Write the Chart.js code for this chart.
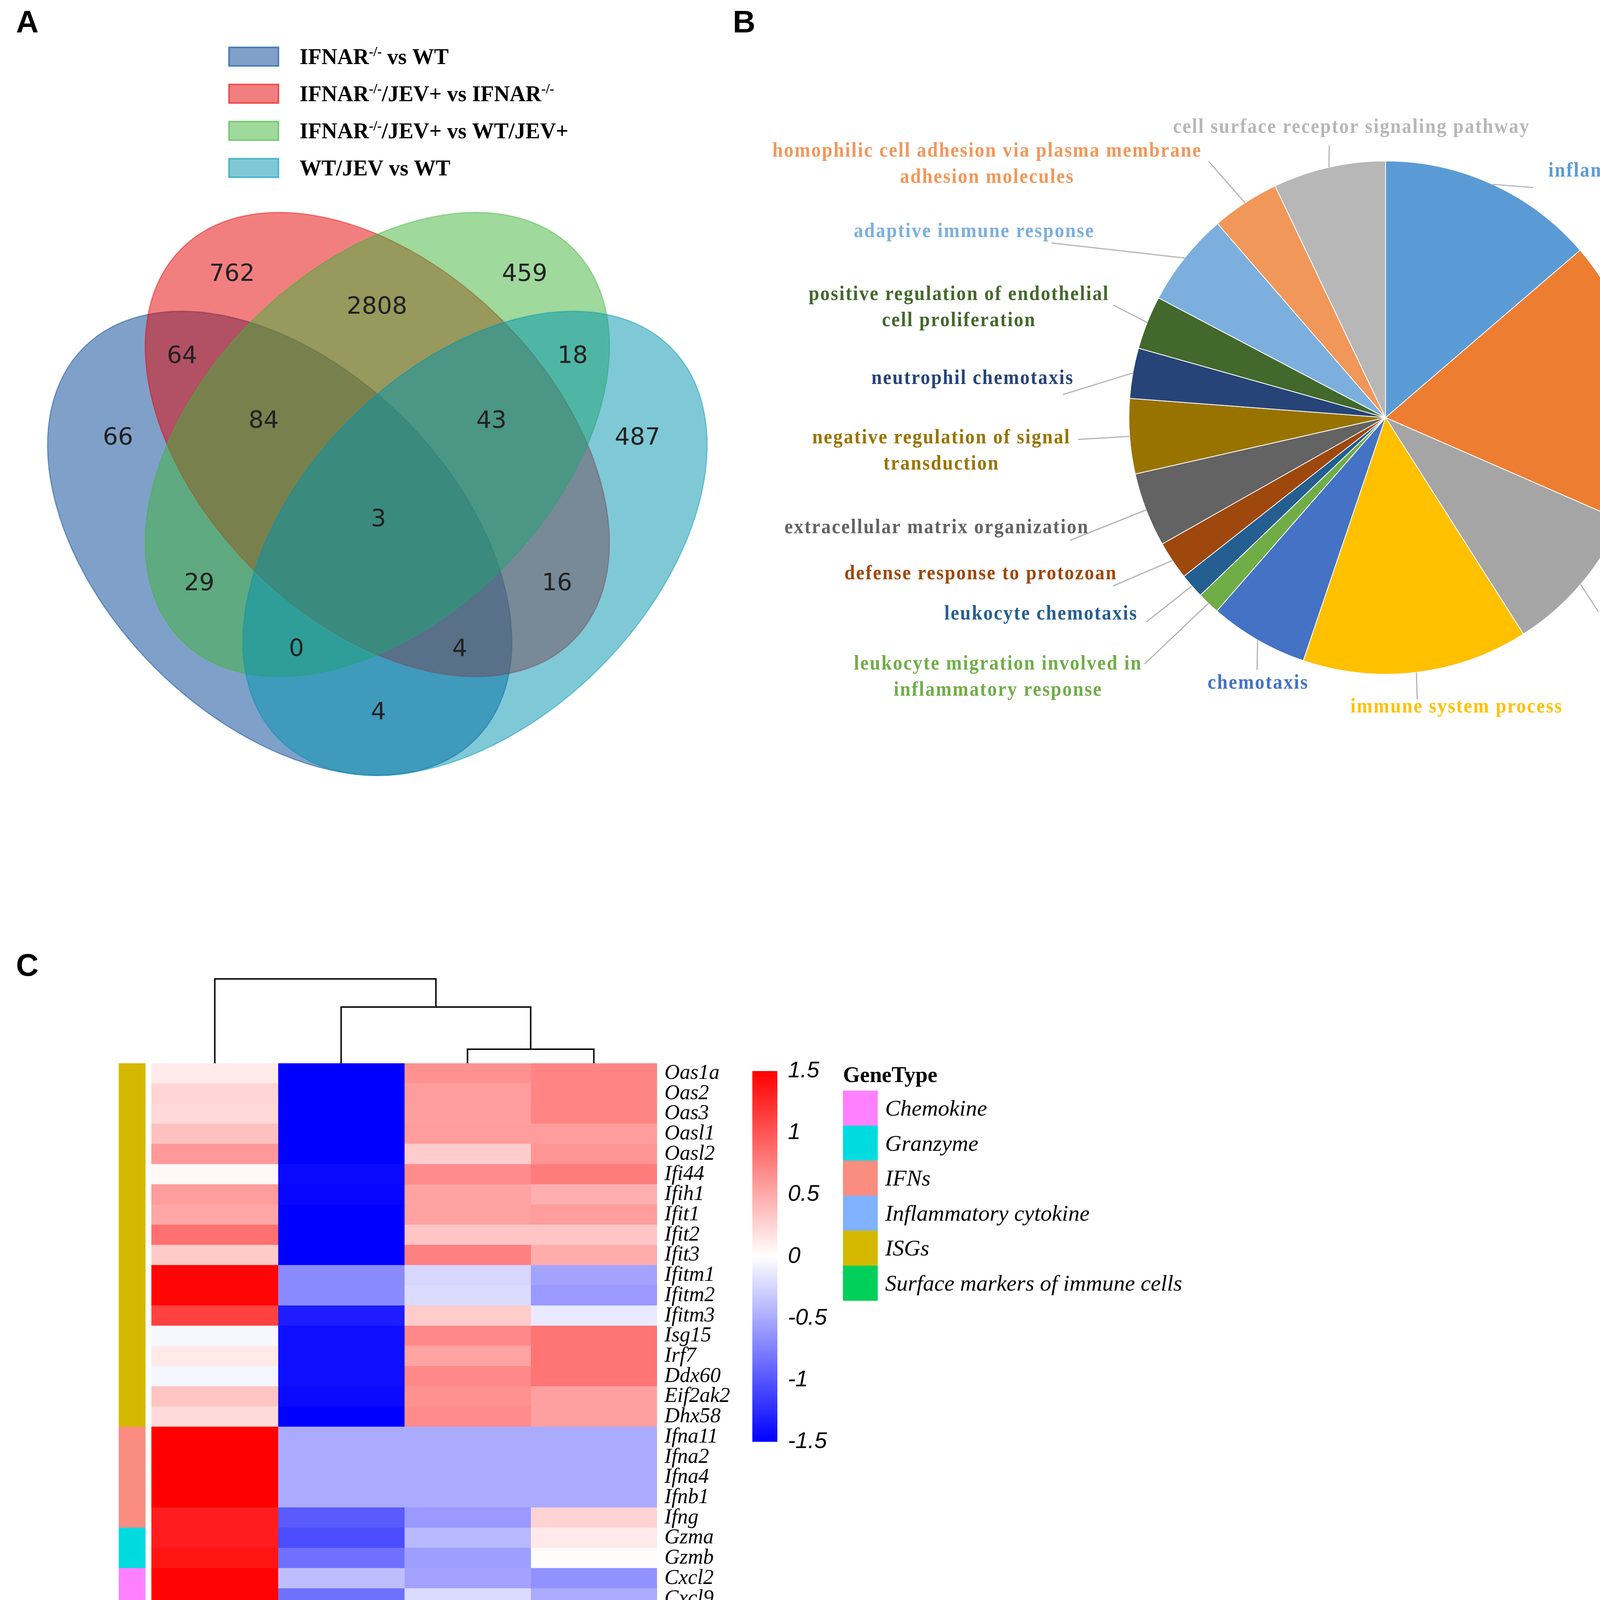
<!DOCTYPE html>
<html>
<head>
<meta charset="utf-8">
<title>IFNAR / JEV figure</title>
<script src="https://cdn.jsdelivr.net/npm/chart.js@4.4.1/dist/chart.umd.min.js"></script>
<style>
  html, body { margin: 0; padding: 0; background: #ffffff; }
  body { position: relative; width: 4569px; height: 5416px; overflow: hidden; }
  canvas { position: absolute; }
</style>
</head>
<body>
<canvas id="venn" width="1850" height="2050" style="left:0px;top:0px"></canvas>
<canvas id="pie" width="2769" height="1950" style="left:1800px;top:0px"></canvas>
<canvas id="dendro" width="1950" height="252" style="left:0px;top:2470px"></canvas>
<canvas id="heat" width="1950" height="3016" style="left:0px;top:2400px"></canvas>
<canvas id="scale" width="1300" height="1080" style="left:1890px;top:2680px"></canvas>
<script>
// ---------- A: Venn ----------
const vennSets = [
  'IFNAR^{-/-} vs WT',
  'IFNAR^{-/-}/JEV+ vs IFNAR^{-/-}',
  'IFNAR^{-/-}/JEV+ vs WT/JEV+',
  'WT/JEV vs WT'
];
const vennColors = ['0,67,147', '230,0,0', '63,179,57', '0,147,175'];
// region counts: only A, only B, only C, only D, AB, BC, CD, ABC, BCD, ABCD, AC, BD, ACD, ABD, AD
const vennCounts = [66, 762, 459, 487, 64, 2808, 18, 84, 43, 3, 29, 16, 0, 4, 4];

// ---------- B: GO terms pie ----------
const goTerms = [
  'inflammatory response', 'cell adhesion', 'immune response', 'immune system process',
  'chemotaxis', 'leukocyte migration involved in inflammatory response', 'leukocyte chemotaxis',
  'defense response to protozoan', 'extracellular matrix organization',
  'negative regulation of signal transduction', 'neutrophil chemotaxis',
  'positive regulation of endothelial cell proliferation', 'adaptive immune response',
  'homophilic cell adhesion via plasma membrane adhesion molecules',
  'cell surface receptor signaling pathway'
];
const goShares = [49.3, 64.3, 33.9, 51.2, 22.4, 5.1, 5.6, 8.7, 16.8, 17.0, 11.4, 12.1, 21.3, 15.4, 25.5];
const goColors = ['#5b9bd5', '#ed7d31', '#a5a5a5', '#ffc000', '#4472c4', '#70ad47', '#255e91',
  '#9e480e', '#636363', '#997300', '#264478', '#43682b', '#7cafdd', '#f1975a', '#b7b7b7'];

// ---------- C: heatmap ----------
const conditions = ['IFNAR^{-/-}/JEV^{+}', 'IFNAR^{-/-}', 'WT', 'WT/JEV^{+}'];
const genes = ['Oas1a', 'Oas2', 'Oas3', 'Oasl1', 'Oasl2', 'Ifi44', 'Ifih1', 'Ifit1', 'Ifit2', 'Ifit3',
  'Ifitm1', 'Ifitm2', 'Ifitm3', 'Isg15', 'Irf7', 'Ddx60', 'Eif2ak2', 'Dhx58',
  'Ifna11', 'Ifna2', 'Ifna4', 'Ifnb1', 'Ifng', 'Gzma', 'Gzmb',
  'Cxcl2', 'Cxcl9', 'Cxcl10', 'Ccl3', 'Ccl5', 'Ccl2', 'Ccl7', 'Ccl8', 'Ccl12',
  'Il1a', 'Il6', 'Il10', 'Il21', 'Il27', 'CD11b', 'CD14', 'GR-1', 'CD161', 'CD4', 'CD19'];
const ifnarJev = [0.12, 0.25, 0.23, 0.37, 0.6, 0.04, 0.58, 0.52, 0.84, 0.31,
  1.47, 1.47, 1.12, -0.05, 0.13, -0.06, 0.35, 0.22,
  1.5, 1.5, 1.5, 1.5, 1.33, 1.33, 1.38,
  1.49, 1.49, 0.91, 1.49, 0.65, 1.5, 1.5, 1.5, 1.31,
  1.5, 1.41, 1.41, 1.36, 1.36, 1.5, 1.5, 1.5, -1.5, -1.5, -1.5];
const ifnar = [-1.5, -1.5, -1.5, -1.5, -1.5, -1.44, -1.46, -1.5, -1.5, -1.5,
  -0.69, -0.69, -1.33, -1.41, -1.41, -1.41, -1.44, -1.5,
  -0.5, -0.5, -0.5, -0.5, -0.97, -1.05, -0.84,
  -0.38, -0.84, -1.49, -0.82, -1.5, -0.35, -0.35, -0.5, -0.97,
  -0.46, -0.95, -0.84, -1.0, -1.12, -0.65, -0.63, -0.44, 0.28, 0.5, 0.6];
const wt = [0.65, 0.58, 0.57, 0.58, 0.3, 0.68, 0.55, 0.55, 0.35, 0.75,
  -0.24, -0.21, 0.3, 0.7, 0.54, 0.7, 0.65, 0.68,
  -0.5, -0.5, -0.5, -0.5, -0.6, -0.42, -0.57,
  -0.54, -0.21, 0.51, -0.4, 0.1, -0.75, -0.78, -0.56, -0.65,
  -0.37, -0.23, -0.5, -0.51, -0.15, -0.37, -0.08, -0.21, 0.58, 0.35, 0.44];
const wtJev = [0.72, 0.72, 0.72, 0.58, 0.63, 0.77, 0.47, 0.58, 0.35, 0.49,
  -0.54, -0.6, -0.13, 0.82, 0.82, 0.82, 0.56, 0.56,
  -0.5, -0.5, -0.5, -0.5, 0.26, 0.13, 0.02,
  -0.65, -0.5, 0.09, -0.23, 0.75, -0.43, -0.37, -0.5, 0.37,
  -0.75, -0.23, -0.19, 0.13, -0.09, -0.54, -0.84, -0.88, 0.65, 0.75, 0.57];
const geneTypes = ['Chemokine', 'Granzyme', 'IFNs', 'Inflammatory cytokine', 'ISGs', 'Surface markers of immune cells'];
const geneTypeColors = ['#ff80ff', '#00dbe0', '#fa8c80', '#80b2ff', '#d4b800', '#00d05a'];
const geneTypeRuns = [['ISGs', 18], ['IFNs', 5], ['Granzyme', 2], ['Chemokine', 9],
  ['Inflammatory cytokine', 5], ['Surface markers of immune cells', 6]];
// column tree: [left node, right node, height]; leaves 0..3, merges become 4, 5, 6
const dendroMerges = [[2, 3, 1], [1, 4, 4], [0, 5, 6]];
const scaleTicks = [-1.5, -1, -0.5, 0, 0.5, 1, 1.5];

// ---------- layout ----------
const vennShapes = [
  { cx: 716, cy: 1391, a: 709, b: 451, rot: Math.PI / 4 },
  { cx: 966, cy: 1138, a: 709, b: 451, rot: Math.PI / 4 },
  { cx: 966, cy: 1138, a: 709, b: 451, rot: -Math.PI / 4 },
  { cx: 1216, cy: 1391, a: 709, b: 451, rot: -Math.PI / 4 }
];
const vennSpots = [[302, 1122], [594, 703], [1343, 703], [1632, 1122], [466, 913], [965, 787],
  [1466, 913], [675, 1079], [1258, 1079], [969, 1331], [510, 1495], [1426, 1495], [759, 1663],
  [1177, 1663], [969, 1825]];
const goLabelText = [['inflammatory response'], ['cell adhesion'], ['immune response'],
  ['immune system process'], ['chemotaxis'], ['leukocyte migration involved in', 'inflammatory response'],
  ['leukocyte chemotaxis'], ['defense response to protozoan'], ['extracellular matrix organization'],
  ['negative regulation of signal', 'transduction'], ['neutrophil chemotaxis'],
  ['positive regulation of endothelial', 'cell proliferation'], ['adaptive immune response'],
  ['homophilic cell adhesion via plasma membrane', 'adhesion molecules'],
  ['cell surface receptor signaling pathway']];
const goLabelAt = [[2431, 439], [2583, 956], [2517, 1548], [1929, 1811], [1421, 1750], [755, 1701],
  [865, 1573], [711, 1470], [598, 1352], [610, 1122], [690, 970], [655, 755], [694, 594], [727, 388],
  [1660, 327]];
const goLeaderTo = [[2125, 480], [2426, 974], [2292, 1566], [1828, 1790], [1418, 1715], [1130, 1700],
  [1135, 1592], [1050, 1500], [940, 1383], [960, 1125], [921, 1010], [1050, 781], [892, 622],
  [1294, 413], [1603, 372]];

const serif = '"Liberation Serif", "Times New Roman", serif';

// text with ^{superscript} parts
function richParts(str) {
  return str.split(/(\^\{[^}]*\})/).filter(s => s).map(s =>
    s.startsWith('^{') ? { t: s.slice(2, -1), sup: true } : { t: s, sup: false });
}
function drawRich(ctx, str, x, y, size, style, align) {
  const parts = richParts(str);
  const font = sup => `${style} ${sup ? Math.round(size * 0.62) : size}px ${serif}`;
  let total = 0;
  parts.forEach(p => { ctx.font = font(p.sup); p.w = ctx.measureText(p.t).width; total += p.w; });
  let px = align === 'right' ? x - total : align === 'center' ? x - total / 2 : x;
  ctx.textAlign = 'left';
  ctx.textBaseline = 'alphabetic';
  parts.forEach(p => {
    ctx.font = font(p.sup);
    ctx.fillText(p.t, px, p.sup ? y - size * 0.36 : y);
    px += p.w;
  });
}
function panelLetter(ctx, letter, x, y) {
  ctx.save();
  ctx.fillStyle = '#000';
  ctx.font = 'bold 80px "Liberation Sans", Arial, sans-serif';
  ctx.textAlign = 'left';
  ctx.textBaseline = 'alphabetic';
  ctx.fillText(letter, x, y);
  ctx.restore();
}

const base = {
  responsive: false,
  devicePixelRatio: 1,
  animation: false,
  events: [],
  plugins: { legend: { display: false }, tooltip: { enabled: false } }
};

// ---------- Venn chart ----------
const vennPlugin = {
  id: 'vennShapes',
  beforeDatasetsDraw(chart) {
    const { ctx, scales: { x, y } } = chart;
    const ux = x.getPixelForValue(1) - x.getPixelForValue(0);
    vennShapes.forEach((e, i) => {
      ctx.save();
      ctx.beginPath();
      ctx.ellipse(x.getPixelForValue(e.cx), y.getPixelForValue(e.cy), e.a * ux, e.b * ux, e.rot, 0, Math.PI * 2);
      ctx.fillStyle = `rgba(${vennColors[i]},0.5)`;
      ctx.fill();
      ctx.lineWidth = 3;
      ctx.strokeStyle = `rgba(${vennColors[i]},0.45)`;
      ctx.stroke();
      ctx.restore();
    });
  },
  afterDatasetsDraw(chart) {
    const { ctx } = chart;
    const meta = chart.getDatasetMeta(0);
    ctx.save();
    ctx.fillStyle = '#222';
    ctx.font = '61px "DejaVu Sans", sans-serif';
    ctx.textAlign = 'center';
    ctx.textBaseline = 'middle';
    meta.data.forEach((pt, i) => ctx.fillText(String(vennCounts[i]), pt.x, pt.y));
    // legend
    vennSets.forEach((name, i) => {
      const cy = 145 + i * 95;
      ctx.fillStyle = `rgba(${vennColors[i]},0.5)`;
      ctx.fillRect(586, cy - 24, 127, 48);
      ctx.strokeStyle = `rgba(${vennColors[i]},0.55)`;
      ctx.lineWidth = 4;
      ctx.strokeRect(586, cy - 24, 127, 48);
      ctx.fillStyle = '#000';
      drawRich(ctx, name, 767, cy + 19, 56, 'bold', 'left');
    });
    ctx.restore();
    panelLetter(ctx, 'A', 41, 83);
  }
};
new Chart(document.getElementById('venn'), {
  type: 'scatter',
  data: {
    datasets: [{
      label: 'DEGs',
      data: vennSpots.map(p => ({ x: p[0], y: p[1] })),
      pointRadius: 0
    }]
  },
  options: {
    ...base,
    layout: { padding: 0 },
    scales: {
      x: { type: 'linear', min: 0, max: 1850, display: false },
      y: { type: 'linear', min: 0, max: 2050, reverse: true, display: false }
    }
  },
  plugins: [vennPlugin]
});

// ---------- Pie chart ----------
const pieLabels = {
  id: 'pieLabels',
  afterDraw(chart) {
    const { ctx } = chart;
    const meta = chart.getDatasetMeta(0);
    ctx.save();
    meta.data.forEach((arc, i) => {
      const mid = (arc.startAngle + arc.endAngle) / 2;
      const ex = arc.x + Math.cos(mid) * arc.outerRadius;
      const ey = arc.y + Math.sin(mid) * arc.outerRadius;
      ctx.strokeStyle = '#b4b4b4';
      ctx.lineWidth = 3;
      ctx.beginPath();
      ctx.moveTo(ex, ey);
      ctx.lineTo(goLeaderTo[i][0], goLeaderTo[i][1]);
      ctx.stroke();
    });
    ctx.font = `bold 52px ${serif}`;
    ctx.letterSpacing = '3px';
    ctx.textAlign = 'center';
    ctx.textBaseline = 'middle';
    goLabelText.forEach((lines, i) => {
      ctx.fillStyle = goColors[i];
      lines.forEach((line, k) => {
        ctx.save();
        ctx.translate(goLabelAt[i][0], goLabelAt[i][1] + k * 67);
        ctx.scale(0.93, 1);
        ctx.fillText(line, 0, 0);
        ctx.restore();
      });
    });
    ctx.restore();
    panelLetter(ctx, 'B', 76, 83);
  }
};
new Chart(document.getElementById('pie'), {
  type: 'pie',
  data: {
    labels: goTerms,
    datasets: [{ data: goShares, backgroundColor: goColors, borderColor: '#ffffff', borderWidth: 2 }]
  },
  options: {
    ...base,
    layout: { padding: { left: 1089, right: 364, top: 411, bottom: 223 } }
  },
  plugins: [pieLabels]
});

// ---------- Dendrogram ----------
const nodeX = [0.5, 1.5, 2.5, 3.5];
const nodeH = [0, 0, 0, 0];
const dendroLines = dendroMerges.map(([l, r, h]) => {
  const pts = [{ x: nodeX[l], y: nodeH[l] }, { x: nodeX[l], y: h }, { x: nodeX[r], y: h }, { x: nodeX[r], y: nodeH[r] }];
  nodeX.push((nodeX[l] + nodeX[r]) / 2);
  nodeH.push(h);
  return pts;
});
new Chart(document.getElementById('dendro'), {
  type: 'scatter',
  data: {
    datasets: dendroLines.map(pts => ({
      data: pts, showLine: true, borderColor: '#111', borderWidth: 4,
      pointRadius: 0, tension: 0, clip: false
    }))
  },
  options: {
    ...base,
    layout: { padding: { left: 304, right: 268, top: 36, bottom: 0 } },
    scales: {
      x: { type: 'linear', min: -0.26, max: 4, display: false },
      y: { type: 'linear', min: 0, max: 6, display: false }
    }
  }
});

// ---------- Heatmap ----------
function heatColor(v) {
  const t = Math.min(Math.abs(v) / 1.5, 1);
  const k = Math.round(255 * (1 - t));
  return v >= 0 ? `rgb(255,${k},${k})` : `rgb(${k},${k},255)`;
}
const rowType = geneTypeRuns.flatMap(([t, n]) => Array(n).fill(t));
const heatColumns = [ifnarJev, ifnar, wt, wtJev];
const heatDatasets = [{
  label: 'GeneType',
  data: genes.map(() => [-0.26, -0.05]),
  backgroundColor: c => geneTypeColors[geneTypes.indexOf(rowType[c.dataIndex])],
  grouped: false, barPercentage: 1, categoryPercentage: 1, borderWidth: 0, inflateAmount: 0.6
}].concat(heatColumns.map((vals, col) => ({
  label: conditions[col],
  data: genes.map(() => [col, col + 1]),
  backgroundColor: c => heatColor(vals[c.dataIndex]),
  grouped: false, barPercentage: 1, categoryPercentage: 1, borderWidth: 0, inflateAmount: 0.6
})));
const heatLabels = {
  id: 'heatLabels',
  afterDraw(chart) {
    const { ctx, chartArea, scales: { x } } = chart;
    ctx.save();
    ctx.fillStyle = '#000';
    conditions.forEach((name, col) => {
      ctx.save();
      ctx.translate(x.getPixelForValue(col + 0.5) + 22, chartArea.bottom + 30);
      ctx.rotate(-42 * Math.PI / 180);
      drawRich(ctx, name, 0, 44, 60, 'italic bold', 'right');
      ctx.restore();
    });
    drawRich(ctx, 'GeneType', x.getPixelForValue(-0.05), chartArea.bottom + 48, 55, '', 'right');
    ctx.restore();
    panelLetter(ctx, 'C', 41, 98);
  }
};
new Chart(document.getElementById('heat'), {
  type: 'bar',
  data: { labels: genes, datasets: heatDatasets },
  options: {
    ...base,
    indexAxis: 'y',
    layout: { padding: { left: 304, right: 38, top: 322, bottom: 367 } },
    scales: {
      x: { type: 'linear', min: -0.26, max: 4, display: false },
      y: {
        type: 'category', position: 'right',
        afterFit: s => { s.width = 230; },
        grid: { display: false, drawTicks: false },
        border: { display: false },
        ticks: {
          autoSkip: false, padding: 19, color: '#000',
          font: { family: serif, style: 'italic', size: 54 }
        }
      }
    }
  },
  plugins: [heatLabels]
});

// ---------- Colour key + GeneType legend ----------
function keyGradient(c) {
  const { chart } = c;
  const ys = chart.scales && chart.scales.y;
  if (!chart.chartArea || !ys) return '#ffffff';
  const y0 = ys.getPixelForValue(-1.5);
  const y1 = ys.getPixelForValue(1.5);
  if (!isFinite(y0) || !isFinite(y1) || y0 === y1) return '#ffffff';
  const g = chart.ctx.createLinearGradient(0, y0, 0, y1);
  g.addColorStop(0, '#0000ff');
  g.addColorStop(0.5, '#ffffff');
  g.addColorStop(1, '#ff0000');
  return g;
}
const keyLegend = {
  id: 'keyLegend',
  afterDraw(chart) {
    const { ctx } = chart;
    ctx.save();
    ctx.fillStyle = '#000';
    drawRich(ctx, 'GeneType', 268, 90, 56, 'bold', 'left');
    geneTypes.forEach((t, i) => {
      const top = 112 + i * 89.6;
      ctx.fillStyle = geneTypeColors[i];
      ctx.fillRect(268, top, 89, 90);
      ctx.fillStyle = '#000';
      drawRich(ctx, t, 376, top + 64, 58, 'italic', 'left');
    });
    ctx.restore();
  }
};
new Chart(document.getElementById('scale'), {
  type: 'bar',
  data: {
    labels: ['z-score'],
    datasets: [{
      data: [[scaleTicks[0], scaleTicks[scaleTicks.length - 1]]],
      barPercentage: 1, categoryPercentage: 1, borderWidth: 0,
      backgroundColor: keyGradient
    }]
  },
  options: {
    ...base,
    layout: { padding: { left: 36, right: 1050, top: 37, bottom: 69 } },
    scales: {
      x: { display: false },
      y: {
        type: 'linear', position: 'right', min: -1.5, max: 1.5,
        afterFit: s => { s.width = 150; },
        afterBuildTicks: s => { s.ticks = scaleTicks.map(v => ({ value: v })); },
        grid: { display: false, drawTicks: false },
        border: { display: false },
        ticks: {
          padding: 27, color: '#000',
          font: { family: '"Liberation Sans", Arial, sans-serif', style: 'italic', size: 58 },
          callback: v => String(v)
        }
      }
    }
  },
  plugins: [keyLegend]
});
</script>
</body>
</html>
